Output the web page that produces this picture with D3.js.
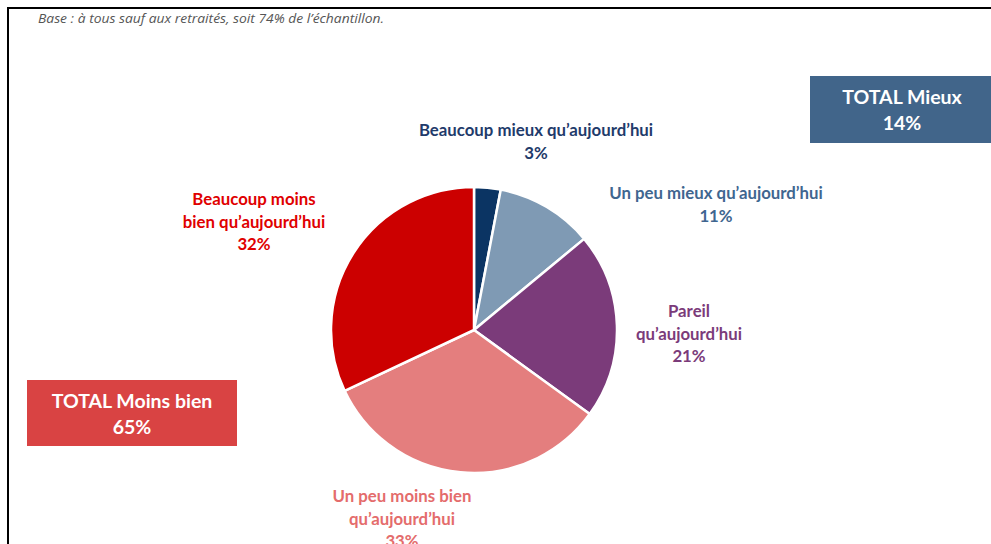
<!DOCTYPE html>
<html><head><meta charset="utf-8">
<script src="https://cdn.jsdelivr.net/npm/d3@7"></script>
<style>
html,body{margin:0;padding:0;background:#fff;}
svg{display:block;}
</style></head>
<body>
<svg id="chart" width="991" height="544"></svg>
<script>
// ---- data ----
const categories = ["Beaucoup mieux qu’aujourd’hui", "Un peu mieux qu’aujourd’hui", "Pareil qu’aujourd’hui", "Un peu moins bien qu’aujourd’hui", "Beaucoup moins bien qu’aujourd’hui"];
const values = [3, 11, 21, 33, 32];
const labelLines = [
  ["Beaucoup mieux qu’aujourd’hui", "3%"],
  ["Un peu mieux qu’aujourd’hui", "11%"],
  ["Pareil", "qu’aujourd’hui", "21%"],
  ["Un peu moins bien", "qu’aujourd’hui", "33%"],
  ["Beaucoup moins", "bien qu’aujourd’hui", "32%"]
];
const totalLabels = ["TOTAL Mieux", "TOTAL Moins bien"];
const totalValues = [14, 65];
const baseNote = "Base : à tous sauf aux retraités, soit 74% de l’échantillon.";

// ---- styles / layout ----
const sliceColors = ["#0b3463", "#7f9ab4", "#7b3b7a", "#e47e7e", "#cc0000"];
const labelColors = ["#1f3b6b", "#3f6690", "#7b3b7a", "#e46c6c", "#e00000"];
const labelPos = [[536,136],[716,199],[689,317],[402,502],[254,205]];
const boxes = [
  {x:810, y:76, w:181, h:67, fill:"#41658a", cx:902},
  {x:27, y:380, w:210, h:66, fill:"#d94343", cx:132}
];
const cx = 474, cy = 330, R = 143;
const font = "Lato, 'Open Sans', sans-serif";

const svg = d3.select("#chart");

// frame
svg.append("line").attr("x1",8).attr("y1",8).attr("x2",991).attr("y2",8).attr("stroke","#000").attr("stroke-width",2);
svg.append("line").attr("x1",8).attr("y1",7).attr("x2",8).attr("y2",544).attr("stroke","#000").attr("stroke-width",2);

svg.append("text").attr("x",38).attr("y",23).attr("font-family","'Open Sans', sans-serif")
  .attr("font-style","italic").attr("font-size",12).attr("fill","#555").text(baseNote)
  .attr("textLength",346).attr("lengthAdjust","spacingAndGlyphs");

// pie
const pie = d3.pie().sort(null).value(d=>d).startAngle(0).endAngle(2*Math.PI);
const arc = d3.arc().innerRadius(0).outerRadius(R);
const g = svg.append("g").attr("transform",`translate(${cx},${cy})`);
g.selectAll("path").data(pie(values)).join("path")
  .attr("d",arc).attr("fill",(d,i)=>sliceColors[i])
  .attr("stroke","#fff").attr("stroke-width",2.5).attr("stroke-linejoin","round");

// labels
const lh = 22.5;
labelLines.forEach((lines,i)=>{
  const t = svg.append("text").attr("text-anchor","middle").attr("font-family",font)
    .attr("font-weight",700).attr("font-size",16.8).attr("fill",labelColors[i]);
  lines.forEach((s,j)=>{
    t.append("tspan").attr("x",labelPos[i][0]).attr("y",labelPos[i][1]+j*lh).text(s);
  });
});

// total boxes
boxes.forEach((b,i)=>{
  svg.append("rect").attr("x",b.x).attr("y",b.y).attr("width",b.w).attr("height",b.h).attr("fill",b.fill);
  const t = svg.append("text").attr("text-anchor","middle").attr("font-family",font)
    .attr("font-weight",700).attr("font-size",19.5).attr("fill","#fff");
  t.append("tspan").attr("x",b.cx).attr("y",b.y+28).text(totalLabels[i]);
  t.append("tspan").attr("x",b.cx).attr("y",b.y+54).text(totalValues[i]+"%");
});
</script>
</body></html>
